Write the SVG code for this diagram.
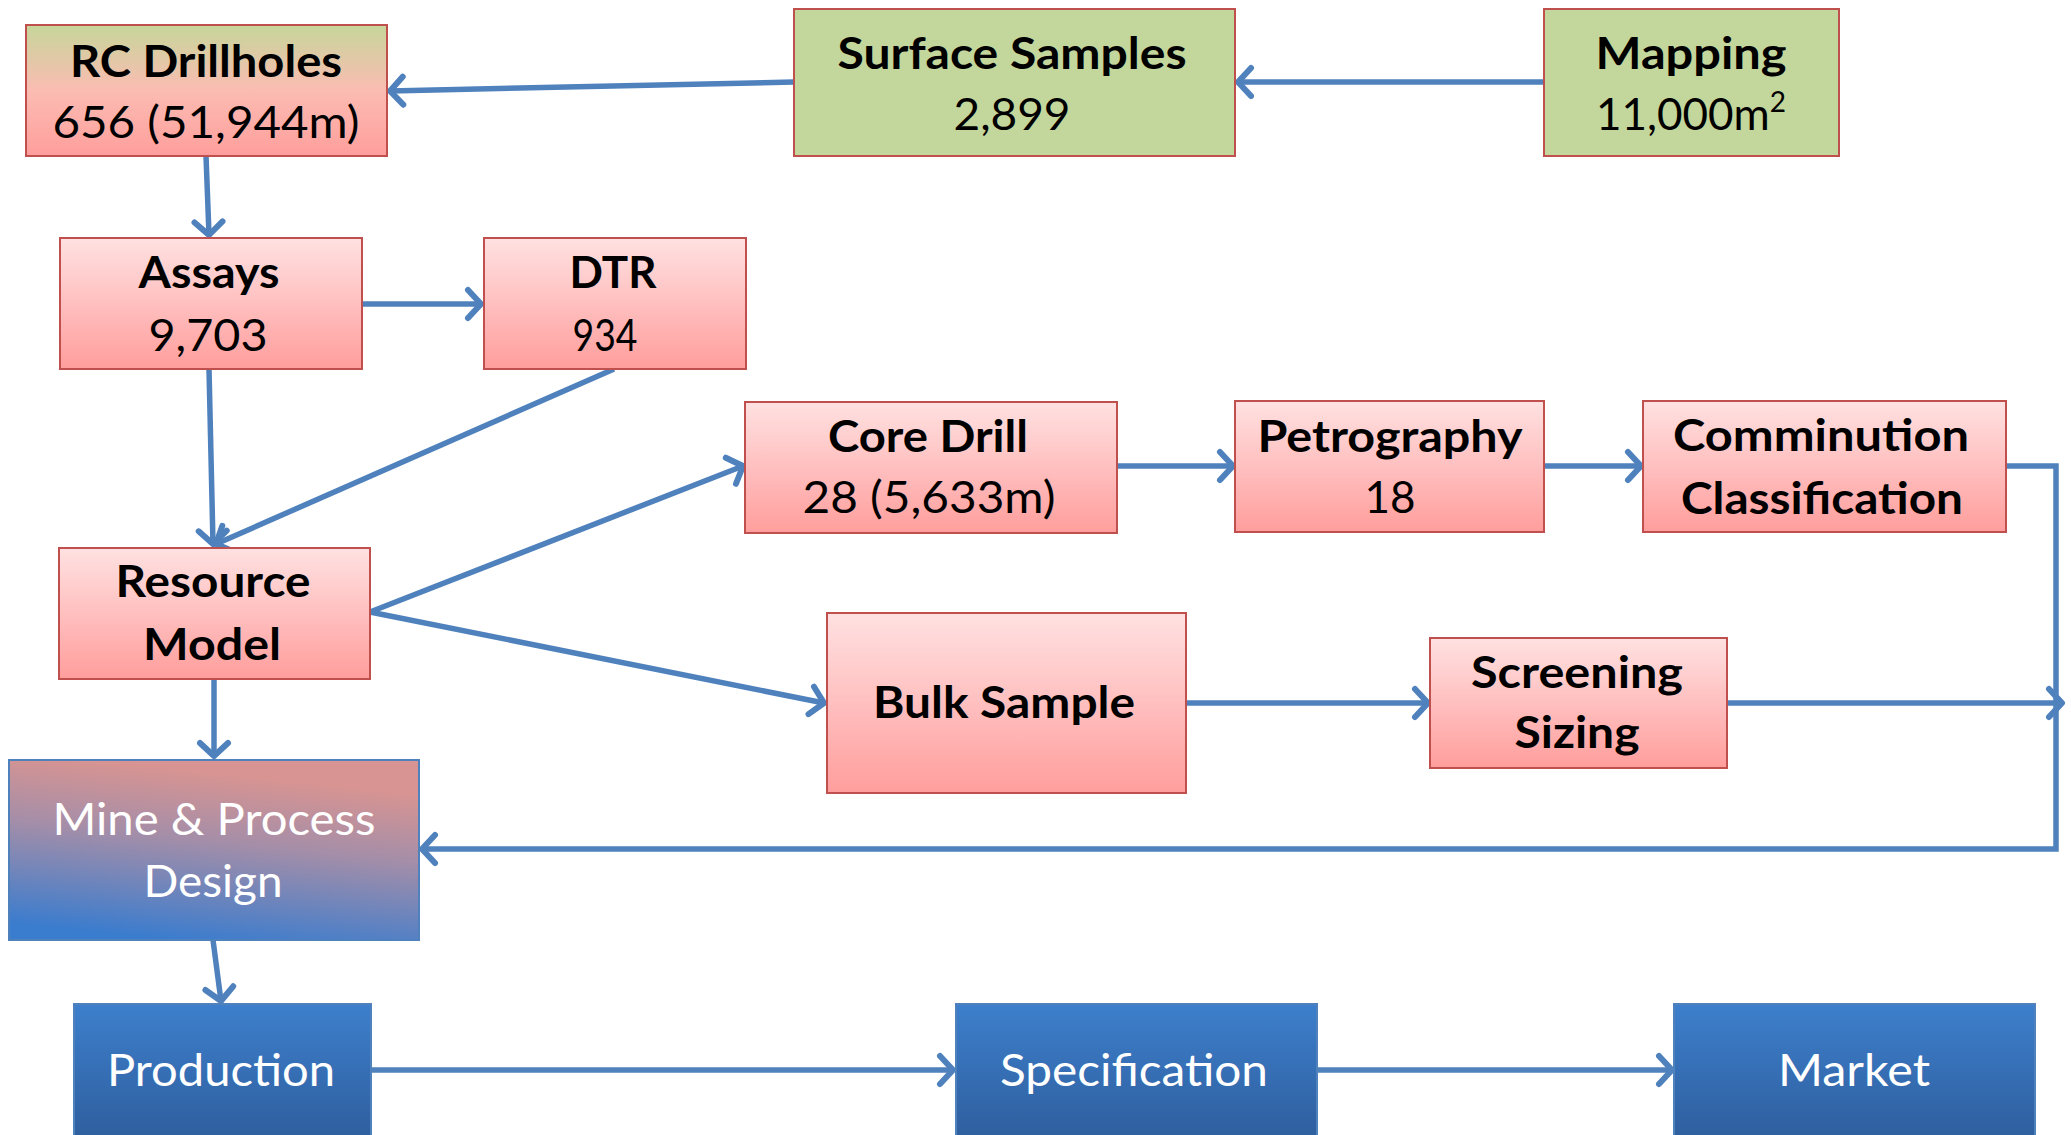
<svg xmlns="http://www.w3.org/2000/svg" width="2071" height="1135" viewBox="0 0 2071 1135">
<defs>
<linearGradient id="gPink" x1="0" y1="0" x2="0" y2="1">
<stop offset="0" stop-color="#ffe1e1"/>
<stop offset="0.55" stop-color="#ffbcbc"/>
<stop offset="1" stop-color="#ff9e9c"/>
</linearGradient>
<linearGradient id="gRC" x1="0" y1="0" x2="0" y2="1">
<stop offset="0" stop-color="#c6d69a"/>
<stop offset="0.5" stop-color="#fbbcb2"/>
<stop offset="1" stop-color="#ff9e9c"/>
</linearGradient>
<linearGradient id="gMine" x1="0.62" y1="0" x2="0.38" y2="1">
<stop offset="0.1" stop-color="#d79492"/>
<stop offset="0.45" stop-color="#a58ea8"/>
<stop offset="1" stop-color="#3a7cce"/>
</linearGradient>
<linearGradient id="gBlue" x1="0" y1="0" x2="0" y2="1">
<stop offset="0" stop-color="#3d7fcc"/>
<stop offset="1" stop-color="#2e5d9c"/>
</linearGradient>
<marker id="arr" markerUnits="userSpaceOnUse" viewBox="-20 -20 26 40" refX="0" refY="0" markerWidth="26" markerHeight="40" orient="auto" overflow="visible">
<path d="M-13,-14 L0,0 L-13,14" fill="none" stroke="#4f81bd" stroke-width="6" stroke-linecap="round" stroke-linejoin="round"/>
</marker>
</defs>
<style>
.pink{fill:url(#gPink);stroke:#c0504d;stroke-width:2}
.green{fill:#c3d69b;stroke:#c0504d;stroke-width:2}
.rc{fill:url(#gRC);stroke:#c0504d;stroke-width:2}
.mine{fill:url(#gMine);stroke:#4f81bd;stroke-width:2}
.blue{fill:url(#gBlue);stroke:#4f81bd;stroke-width:2}
text{font-family:Lato,"Open Sans","Liberation Sans",sans-serif;font-size:44px;text-anchor:middle}
.b{font-weight:bold;fill:#000}
.r{font-weight:normal;fill:#000}
.w{font-weight:normal;fill:#fff}
.c{fill:none;stroke:#4f81bd;stroke-width:5.5;stroke-linejoin:miter}
.c.a{marker-end:url(#arr)}
</style>

<g id="connectors">
<path class="c a" d="M794,82 L390,91"/>
<path class="c a" d="M1544,82 L1238,82"/>
<path class="c a" d="M206,156 L209,235"/>
<path class="c a" d="M362,304 L481,304"/>
<path class="c a" d="M209,369 L213,544"/>
<path class="c a" d="M614,369 L216,544"/>
<path class="c a" d="M370,612 L743,466"/>
<path class="c a" d="M370,612 L824,703"/>
<path class="c a" d="M1117,466 L1233,466"/>
<path class="c a" d="M1544,466 L1641,466"/>
<path class="c a" d="M1186,703 L1428,703"/>
<path class="c a" d="M1727,703 L2062,703"/>
<path class="c a" d="M2006,466 L2056,466 L2056,849 L422,849"/>
<path class="c a" d="M214,679 L214,756"/>
<path class="c a" d="M213,940 L221,1001"/>
<path class="c a" d="M371,1070 L953,1070"/>
<path class="c a" d="M1317,1070 L1672,1070"/>
</g>

<g id="rc-drillholes">
<rect class="rc" x="26" y="25" width="361" height="131"/>
<text class="b" x="206" y="77" textLength="272" lengthAdjust="spacingAndGlyphs">RC Drillholes</text>
<text class="r" x="206" y="138" textLength="307" lengthAdjust="spacingAndGlyphs">656 (51,944m)</text>
</g>
<g id="surface-samples">
<rect class="green" x="794" y="9" width="441" height="147"/>
<text class="b" x="1012" y="69" textLength="349" lengthAdjust="spacingAndGlyphs">Surface Samples</text>
<text class="r" x="1012" y="130" textLength="117" lengthAdjust="spacingAndGlyphs">2,899</text>
</g>
<g id="mapping">
<rect class="green" x="1544" y="9" width="295" height="147"/>
<text class="b" x="1691" y="69" textLength="191" lengthAdjust="spacingAndGlyphs">Mapping</text>
<text class="r" x="1691" y="130">11,000m<tspan font-size="28" dy="-18">2</tspan></text>
</g>
<g id="assays">
<rect class="pink" x="60" y="238" width="302" height="131"/>
<text class="b" x="209" y="288" textLength="141" lengthAdjust="spacingAndGlyphs">Assays</text>
<text class="r" x="208" y="351" textLength="119" lengthAdjust="spacingAndGlyphs">9,703</text>
</g>
<g id="dtr">
<rect class="pink" x="484" y="238" width="262" height="131"/>
<text class="b" x="613" y="288" textLength="87" lengthAdjust="spacingAndGlyphs">DTR</text>
<text class="r" x="605" y="351" textLength="65" lengthAdjust="spacingAndGlyphs">934</text>
</g>
<g id="core-drill">
<rect class="pink" x="745" y="402" width="372" height="131"/>
<text class="b" x="928" y="452" textLength="200" lengthAdjust="spacingAndGlyphs">Core Drill</text>
<text class="r" x="929" y="513" textLength="253" lengthAdjust="spacingAndGlyphs">28 (5,633m)</text>
</g>
<g id="petrography">
<rect class="pink" x="1235" y="401" width="309" height="131"/>
<text class="b" x="1390" y="452" textLength="265" lengthAdjust="spacingAndGlyphs">Petrography</text>
<text class="r" x="1390" y="513" textLength="51" lengthAdjust="spacingAndGlyphs">18</text>
</g>
<g id="comminution-classification">
<rect class="pink" x="1643" y="401" width="363" height="131"/>
<text class="b" x="1821" y="451" textLength="296" lengthAdjust="spacingAndGlyphs">Comminution</text>
<text class="b" x="1822" y="514" textLength="282" lengthAdjust="spacingAndGlyphs">Classification</text>
</g>
<g id="resource-model">
<rect class="pink" x="59" y="548" width="311" height="131"/>
<text class="b" x="213" y="597" textLength="195" lengthAdjust="spacingAndGlyphs">Resource</text>
<text class="b" x="212" y="660" textLength="138" lengthAdjust="spacingAndGlyphs">Model</text>
</g>
<g id="bulk-sample">
<rect class="pink" x="827" y="613" width="359" height="180"/>
<text class="b" x="1004" y="718" textLength="262" lengthAdjust="spacingAndGlyphs">Bulk Sample</text>
</g>
<g id="screening-sizing">
<rect class="pink" x="1430" y="638" width="297" height="130"/>
<text class="b" x="1577" y="688" textLength="212" lengthAdjust="spacingAndGlyphs">Screening</text>
<text class="b" x="1577" y="748" textLength="125" lengthAdjust="spacingAndGlyphs">Sizing</text>
</g>
<g id="mine-process-design">
<rect class="mine" x="9" y="760" width="410" height="180"/>
<text class="w" x="214" y="835" textLength="323" lengthAdjust="spacingAndGlyphs">Mine &amp; Process</text>
<text class="w" x="213" y="897" textLength="139" lengthAdjust="spacingAndGlyphs">Design</text>
</g>
<g id="production">
<rect class="blue" x="74" y="1004" width="297" height="140"/>
<text class="w" x="221" y="1086" textLength="228" lengthAdjust="spacingAndGlyphs">Production</text>
</g>
<g id="specification">
<rect class="blue" x="956" y="1004" width="361" height="140"/>
<text class="w" x="1134" y="1086" textLength="268" lengthAdjust="spacingAndGlyphs">Specification</text>
</g>
<g id="market">
<rect class="blue" x="1674" y="1004" width="361" height="140"/>
<text class="w" x="1854" y="1086" textLength="152" lengthAdjust="spacingAndGlyphs">Market</text>
</g>
</svg>
